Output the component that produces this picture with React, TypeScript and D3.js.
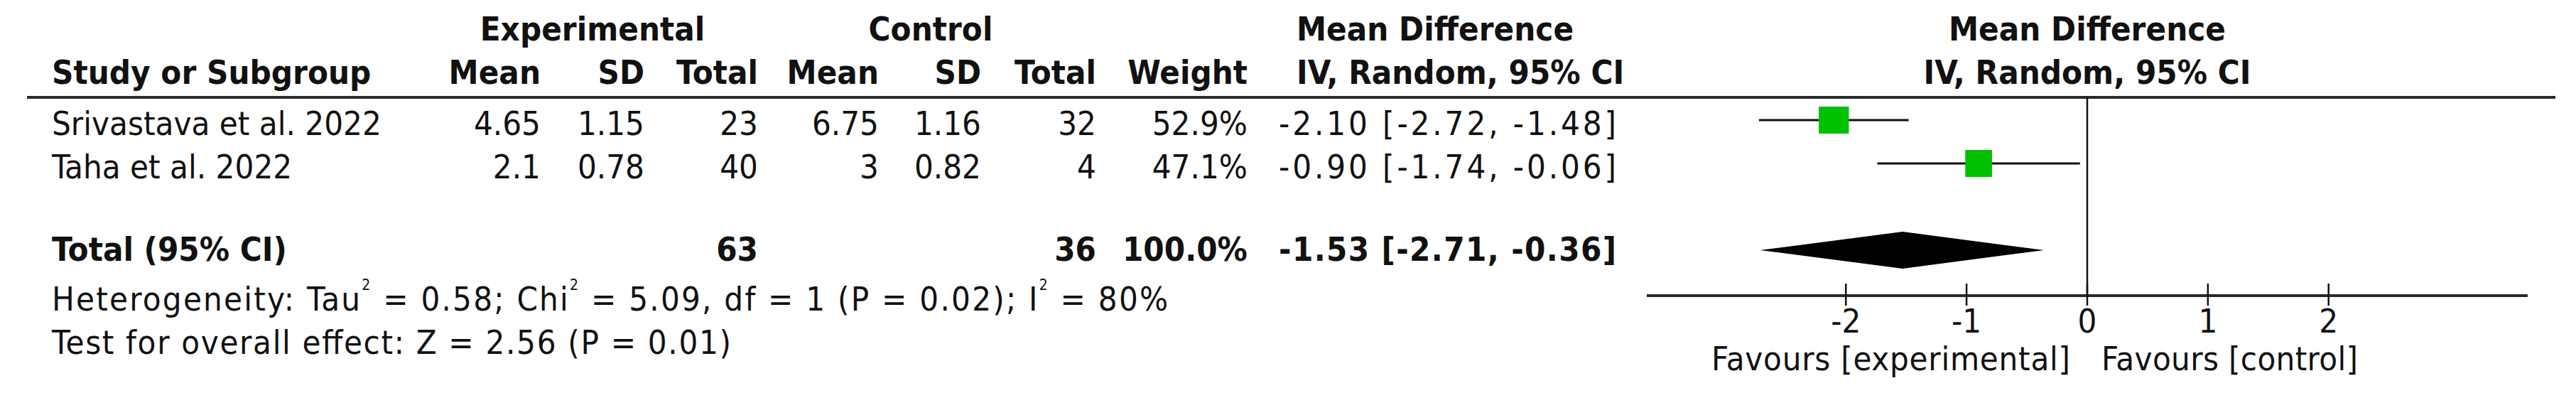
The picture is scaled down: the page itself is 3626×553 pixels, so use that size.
import React from "react";
import * as d3 from "d3";

// ---- data ----
const studies = ["Srivastava et al. 2022", "Taha et al. 2022"];
const expMean = [4.65, 2.1];
const expSD = [1.15, 0.78];
const expTotal = [23, 40];
const ctlMean = [6.75, 3];
const ctlSD = [1.16, 0.82];
const ctlTotal = [32, 4];
const weights = [52.9, 47.1];
const meanDiff = [-2.1, -0.9];
const ciLow = [-2.72, -1.74];
const ciHigh = [-1.48, -0.06];
const pooled = [-1.53, -2.71, -0.36]; // estimate, low, high
const totalN = [63, 36];
const totalWeight = 100.0;
const ticks = [-2, -1, 0, 1, 2];
const heterogeneity = { tau2: "0.58", chi2: "5.09", df: "1", p: "0.02", i2: "80%" };
const overall = "Test for overall effect: Z = 2.56 (P = 0.01)";
const favours = ["Favours [experimental]", "Favours [control]"];

// ---- layout ----
const W = 3626;
const H = 553;
const FONT = "'DejaVu Sans Condensed', 'DejaVu Sans', sans-serif";
const FS = 47;
const rowTop = 169;
const rowStep = 61;
const totalRowY = 352;
const axisY = 416;
const ruleY = 137;

const col = {
  study: 73,
  expMean: 761,
  expSD: 907,
  expTotal: 1067,
  ctlMean: 1237,
  ctlSD: 1381,
  ctlTotal: 1543,
  weight: 1756,
  ciRight: 2275,
  ciHeadLeft: 1825,
};
const ciTextLen = 475;

const x = d3.scaleLinear().domain([-3.65, 3.65]).range([2318, 3558]);
const boxW = d3.scaleLinear().domain([0, 100]).range([0, 80]);
const rowY = (i: number) => rowTop + i * rowStep;

const f2 = d3.format(".2f");
const fmtMD = (v: number) => f2(v).replace("−", "-");
const fmtCI = (m: number, l: number, h: number) => `${fmtMD(m)} [${fmtMD(l)}, ${fmtMD(h)}]`;
const fmtW = (w: number) => `${w.toFixed(1)}%`;
const fmtTick = (t: number) => (t < 0 ? `-${Math.abs(t)}` : `${t}`);

const T = (props: any) => (
  <text fontFamily={FONT} fontSize={FS} fill="#111" {...props} />
);

export default function App() {
  const diamond = d3.line<[number, number]>()([
    [x(pooled[1]), totalRowY],
    [x(pooled[0]), totalRowY - 26],
    [x(pooled[2]), totalRowY],
    [x(pooled[0]), totalRowY + 26],
  ]) + "Z";

  return (
    <svg
      width={W}
      height={H}
      viewBox={`0 0 ${W} ${H}`}
      style={{ position: "absolute", left: 0, top: 0, background: "#fff" }}
    >
      <rect width={W} height={H} fill="#fff" />
      {/* header row 1 */}
      <T x={834} y={57} fontWeight="bold" textAnchor="middle">Experimental</T>
      <T x={1310} y={57} fontWeight="bold" textAnchor="middle">Control</T>
      <T x={col.ciHeadLeft} y={57} fontWeight="bold">Mean Difference</T>
      <T x={x(0)} y={57} fontWeight="bold" textAnchor="middle">Mean Difference</T>
      {/* header row 2 */}
      <T x={col.study} y={118} fontWeight="bold">Study or Subgroup</T>
      <T x={col.expMean} y={118} fontWeight="bold" textAnchor="end">Mean</T>
      <T x={col.expSD} y={118} fontWeight="bold" textAnchor="end">SD</T>
      <T x={col.expTotal} y={118} fontWeight="bold" textAnchor="end">Total</T>
      <T x={col.ctlMean} y={118} fontWeight="bold" textAnchor="end">Mean</T>
      <T x={col.ctlSD} y={118} fontWeight="bold" textAnchor="end">SD</T>
      <T x={col.ctlTotal} y={118} fontWeight="bold" textAnchor="end">Total</T>
      <T x={col.weight} y={118} fontWeight="bold" textAnchor="end">Weight</T>
      <T x={col.ciHeadLeft} y={118} fontWeight="bold">IV, Random, 95% CI</T>
      <T x={x(0)} y={118} fontWeight="bold" textAnchor="middle">IV, Random, 95% CI</T>

      {/* rule */}
      <line x1={38} x2={3597} y1={ruleY} y2={ruleY} stroke="#2a2a2a" strokeWidth={4} />

      {/* study rows */}
      {studies.map((s, i) => {
        const y = rowY(i);
        const tb = y + 21;
        const bw = boxW(weights[i]);
        return (
          <g key={s}>
            <T x={col.study} y={tb}>{s}</T>
            <T x={col.expMean} y={tb} textAnchor="end">{expMean[i]}</T>
            <T x={col.expSD} y={tb} textAnchor="end">{expSD[i]}</T>
            <T x={col.expTotal} y={tb} textAnchor="end">{expTotal[i]}</T>
            <T x={col.ctlMean} y={tb} textAnchor="end">{ctlMean[i]}</T>
            <T x={col.ctlSD} y={tb} textAnchor="end">{ctlSD[i]}</T>
            <T x={col.ctlTotal} y={tb} textAnchor="end">{ctlTotal[i]}</T>
            <T x={col.weight} y={tb} textAnchor="end">{fmtW(weights[i])}</T>
            <T x={col.ciRight - ciTextLen} y={tb} textLength={ciTextLen}>
              {fmtCI(meanDiff[i], ciLow[i], ciHigh[i])}
            </T>
            <line x1={x(ciLow[i])} x2={x(ciHigh[i])} y1={y} y2={y} stroke="#111" strokeWidth={3} />
            <rect x={x(meanDiff[i]) - bw / 2} y={y - 19} width={bw} height={38} fill="#00c000" />
          </g>
        );
      })}

      {/* total row */}
      <T x={col.study} y={367} fontWeight="bold">Total (95% CI)</T>
      <T x={col.expTotal} y={367} fontWeight="bold" textAnchor="end">{totalN[0]}</T>
      <T x={col.ctlTotal} y={367} fontWeight="bold" textAnchor="end">{totalN[1]}</T>
      <T x={col.weight} y={367} fontWeight="bold" textAnchor="end">{fmtW(totalWeight)}</T>
      <T x={col.ciRight - ciTextLen} y={367} fontWeight="bold" textLength={ciTextLen}>
        {fmtCI(pooled[0], pooled[1], pooled[2])}
      </T>
      <path d={diamond} fill="#000" />

      {/* heterogeneity & overall */}
      <T x={col.study} y={437} letterSpacing={2.2}>
        Heterogeneity: Tau
        <tspan fontSize={21} dy={-29}>2</tspan>
        <tspan dy={29}>{` = ${heterogeneity.tau2}; Chi`}</tspan>
        <tspan fontSize={21} dy={-29}>2</tspan>
        <tspan dy={29}>{` = ${heterogeneity.chi2}, df = ${heterogeneity.df} (P = ${heterogeneity.p}); I`}</tspan>
        <tspan fontSize={21} dy={-29}>2</tspan>
        <tspan dy={29}>{` = ${heterogeneity.i2}`}</tspan>
      </T>
      <T x={col.study} y={498} textLength={956}>{overall}</T>

      {/* zero line */}
      <line x1={x(0)} x2={x(0)} y1={ruleY} y2={axisY} stroke="#111" strokeWidth={2.5} />

      {/* axis */}
      <line x1={x.range()[0]} x2={x.range()[1]} y1={axisY} y2={axisY} stroke="#2a2a2a" strokeWidth={4} />
      {ticks.map((t) => (
        <g key={t}>
          <line x1={x(t)} x2={x(t)} y1={axisY - 17} y2={axisY + 14} stroke="#111" strokeWidth={2.5} />
          <T x={x(t)} y={468} textAnchor="middle">{fmtTick(t)}</T>
        </g>
      ))}
      <T x={x(0) - 24 - 505} y={521} textLength={505}>{favours[0]}</T>
      <T x={x(0) + 20} y={521} textLength={361}>{favours[1]}</T>
    </svg>
  );
}
